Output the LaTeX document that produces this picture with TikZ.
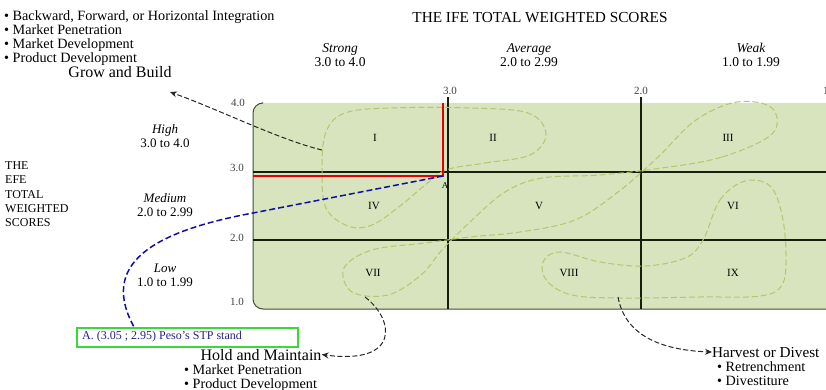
\documentclass[tikz,border=0pt]{standalone}
\usepackage{fontspec}
\setmainfont{Liberation Serif}
\usetikzlibrary{arrows.meta,calc}
\definecolor{cellgreen}{RGB}{215,228,189}
\definecolor{loopcol}{RGB}{185,196,110}
\definecolor{gridcol}{RGB}{22,30,12}
\definecolor{bluecon}{RGB}{15,15,165}
\definecolor{stpgreen}{RGB}{60,215,60}
\definecolor{stptext}{RGB}{35,35,140}
\tikzset{
  bul/.style={inner sep=0pt, anchor=base west, font=\fontsize{14.2}{14}\selectfont},
  bigt/.style={inner sep=0pt, font=\fontsize{16}{16}\selectfont},
  harvt/.style={inner sep=0pt, font=\fontsize{15.2}{16}\selectfont},
  titl/.style={inner sep=0pt, font=\fontsize{15.3}{16}\selectfont},
  hdr/.style={inner sep=0pt, anchor=base, font=\fontsize{13.5}{14}\selectfont},
  hdri/.style={inner sep=0pt, anchor=base, font=\fontsize{13.5}{14}\itshape},
  rhdr/.style={inner sep=0pt, anchor=base, font=\fontsize{13}{14}\selectfont},
  rhdri/.style={inner sep=0pt, anchor=base, font=\fontsize{13}{14}\itshape},
  ticklab/.style={inner sep=0pt, font=\fontsize{11}{12}\selectfont, text=black!75},
  cellno/.style={inner sep=0pt, font=\fontsize{11}{12}\selectfont},
  sidet/.style={inner sep=0pt, anchor=base west, font=\fontsize{12}{12}\selectfont},
  gridline/.style={draw=gridcol, line width=1.5pt},
  loopline/.style={draw=loopcol, line width=1pt, dash pattern=on 6pt off 3pt},
  conn/.style={draw=black!85, line width=1pt, dash pattern=on 5pt off 2.5pt, -{Stealth[length=7pt,width=6pt]}},
}
\begin{document}
\begin{tikzpicture}[x=1pt,y=-1pt]
\useasboundingbox (0,0) rectangle (826,390);
\begin{scope}
\clip (0,0) rectangle (826,390);
% matrix background
\fill[cellgreen, rounded corners=10pt] (253,103) rectangle (860,309);
\draw[gridcol!80, line width=1pt, rounded corners=10pt] (262,103) -- (253,103) -- (253,309) -- (860,309);
% grid
\draw[gridline] (253,172) -- (860,172);
\draw[gridline] (253,240) -- (860,240);
\draw[gridline] (448,97) -- (448,309);
\draw[gridline] (641,97) -- (641,309);
% loops
\draw[loopline] plot[smooth cycle, tension=0.6] coordinates {(446,170) (485,163) (530,155) (546,134) (528,113) (470,108) (390,108) (345,113) (326,132) (322,170) (326,208) (348,226) (372,225) (400,206) (424,186)};
\draw[loopline] plot[smooth cycle, tension=0.6] coordinates {(662,168) (722,157) (772,134) (772,108) (737,102) (696,120) (657,158) (618,192) (575,220) (520,232) (470,237) (425,243) (372,250) (344,268) (352,292) (388,295) (421,275) (442,250) (470,222) (505,192) (542,178) (600,175)};
\draw[loopline] plot[smooth cycle, tension=0.6] coordinates {(703,240) (720,200) (745,181) (770,186) (782,215) (786,255) (782,285) (760,296) (700,297) (620,298) (572,295) (547,281) (543,262) (560,252) (600,262) (645,266) (685,258)};
% red lines
\draw[red!90!black, line width=1.6pt] (253,176) -- (443,176) -- (443,103);
% far right column label, cut by the edge as in the reference
\node[ticklab] (c10) at (830,91) {1.0};
\end{scope}
% point A
\coordinate (A) at (443,176);
\node[inner sep=0pt, font=\fontsize{9}{10}\selectfont] (Alab) at (445,186) {A};
% tick labels
\node[ticklab] (t40) at (238,103) {4.0};
\node[ticklab] (t30) at (237,168) {3.0};
\node[ticklab] (t20) at (237,238) {2.0};
\node[ticklab] (t10) at (237,302) {1.0};
\node[ticklab] (c30) at (450,91) {3.0};
\node[ticklab] (c20) at (641,91) {2.0};
% title
\node[titl, anchor=base] (title) at (540,23) {THE IFE TOTAL WEIGHTED SCORES};
% column headers
\node[hdri] (strong) at (340,53) {Strong};
\node[hdr] (strongr) at (340,67) {3.0 to 4.0};
\node[hdri] (avg) at (529,53) {Average};
\node[hdr] (avgr) at (529,67) {2.0 to 2.99};
\node[hdri] (weak) at (751,53) {Weak};
\node[hdr] (weakr) at (751,67) {1.0 to 1.99};
% row headers
\node[rhdri] (high) at (165,134) {High};
\node[rhdr] (highr) at (165,148) {3.0 to 4.0};
\node[rhdri] (med) at (165,202) {Medium};
\node[rhdr] (medr) at (165,216) {2.0 to 2.99};
\node[rhdri] (low) at (165,272) {Low};
\node[rhdr] (lowr) at (165,286) {1.0 to 1.99};
% side title
\node[sidet] (s1) at (5,169) {THE};
\node[sidet] (s2) at (5,183) {EFE};
\node[sidet] (s3) at (5,198) {TOTAL};
\node[sidet] (s4) at (5,212) {WEIGHTED};
\node[sidet] (s5) at (5,226) {SCORES};
% cells
\node[cellno] (c1) at (375,138) {I};
\node[cellno] (c2) at (493,138) {II};
\node[cellno] (c3) at (728,138) {III};
\node[cellno] (c4) at (374,206) {IV};
\node[cellno] (c5) at (539,206) {V};
\node[cellno] (c6) at (733,206) {VI};
\node[cellno] (c7) at (373,273) {VII};
\node[cellno] (c8) at (569,273) {VIII};
\node[cellno] (c9) at (733,273) {IX};
% top-left strategies
\node[bul] (b1) at (4,21) {• Backward, Forward, or Horizontal Integration};
\node[bul] (b2) at (4,35) {• Market Penetration};
\node[bul] (b3) at (4,49) {• Market Development};
\node[bul] (b4) at (4,63) {• Product Development};
\node[bigt, anchor=base] (grow) at (120,78) {Grow and Build};
% bottom strategies
\node[bigt, anchor=base] (hold) at (261,360) {Hold and Maintain};
\node[bul] (h1) at (184,374) {• Market Penetration};
\node[bul] (h2) at (184,388) {• Product Development};
\node[harvt, anchor=base west] (harv) at (712,357) {Harvest or Divest};
\node[bul] (v1) at (717,371) {• Retrenchment};
\node[bul] (v2) at (717,385) {• Divestiture};
% STP box
\node[draw=stpgreen, line width=1.5pt, minimum width=221pt, minimum height=19pt, inner sep=0pt, anchor=north west] (stp) at (76,327) {};
\node[inner sep=0pt, anchor=west, text=stptext, font=\fontsize{12}{12}\selectfont] (stptxt) at (82,337) {A. (3.05 ; 2.95) Peso's STP stand};
% connectors
\coordinate (gbs) at (322,150);
\coordinate (gbe) at (170,92);
\draw[conn] (gbs) .. controls (280,140) and (220,110) .. (gbe);
\coordinate (hms) at (365,297);
\draw[conn] (hms) .. controls (395,320) and (400,365) .. (hold.east);
\coordinate (hds) at (618,297);
\draw[conn] (hds) .. controls (625,335) and (660,350) .. (harv.west);
\coordinate (bmid) at (253,213);
\draw[bluecon, line width=1.5pt, dash pattern=on 6pt off 3pt] (A) -- (bmid) .. controls (150,232) and (100,265) .. ($(stp.north west)+(58,0)$);
\end{tikzpicture}
\end{document}
